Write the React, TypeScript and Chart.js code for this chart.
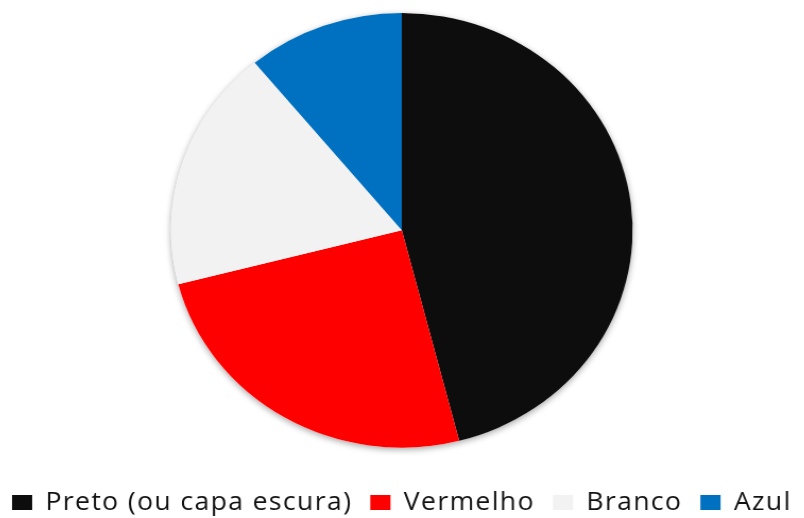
import React, { useEffect, useRef } from "react";
import { Chart, registerables } from "chart.js";

Chart.register(...registerables);

const categories = ["Preto (ou capa escura)", "Vermelho", "Branco", "Azul"];
const values = [46, 25, 18, 11];
const colors = ["#0d0d0d", "#ff0000", "#f2f2f2", "#0070c0"];

const shadowPlugin = {
  id: "pieShadow",
  beforeDatasetsDraw(chart: any) {
    const meta = chart.getDatasetMeta(0);
    if (!meta.data.length) return;
    const arc = meta.data[0];
    const ctx = chart.ctx;
    ctx.save();
    ctx.shadowColor = "rgba(0,0,0,0.35)";
    ctx.shadowBlur = 6;
    ctx.shadowOffsetX = 0;
    ctx.shadowOffsetY = 2;
    ctx.fillStyle = "#ffffff";
    ctx.beginPath();
    ctx.arc(arc.x, arc.y, arc.outerRadius, 0, Math.PI * 2);
    ctx.fill();
    ctx.restore();
  },
};

const spacingPlugin = {
  id: "letterSpacing",
  beforeLayout(chart: any) {
    chart.ctx.letterSpacing = "1.3px";
  },
  beforeDraw(chart: any) {
    chart.ctx.letterSpacing = "1.3px";
  },
};

export default function App() {
  const ref = useRef<HTMLCanvasElement>(null);
  useEffect(() => {
    if (!ref.current) return;
    const chart = new Chart(ref.current, {
      type: "pie",
      data: {
        labels: categories,
        datasets: [
          {
            data: values,
            backgroundColor: colors,
            borderWidth: 0,
          },
        ],
      },
      options: {
        animation: false,
        responsive: false,
        layout: { padding: { top: 13, bottom: 0 } },
        plugins: {
          legend: {
            position: "bottom",
            title: {
              display: true,
              text: " ",
              font: { size: 12 },
              padding: { top: 6, bottom: 5 },
            },
            labels: {
              color: "#111111",
              boxWidth: 19,
              boxHeight: 15,
              padding: 17,
              font: { family: "Open Sans", size: 25 },
            },
          },
          tooltip: { enabled: false },
        },
      },
      plugins: [spacingPlugin, shadowPlugin],
    });
    return () => chart.destroy();
  }, []);
  return (
    <div
      style={{
        position: "fixed",
        left: 0,
        top: 0,
        width: 804,
        height: 518,
        overflow: "hidden",
        background: "#ffffff",
      }}
    >
      <canvas
        ref={ref}
        width={800}
        height={525}
        style={{
          position: "absolute",
          left: -23,
          top: 0,
          display: "block",
          width: 800,
          height: 525,
          transformOrigin: "0 0",
          transform: "scaleX(1.062)",
        }}
      />
    </div>
  );
}
